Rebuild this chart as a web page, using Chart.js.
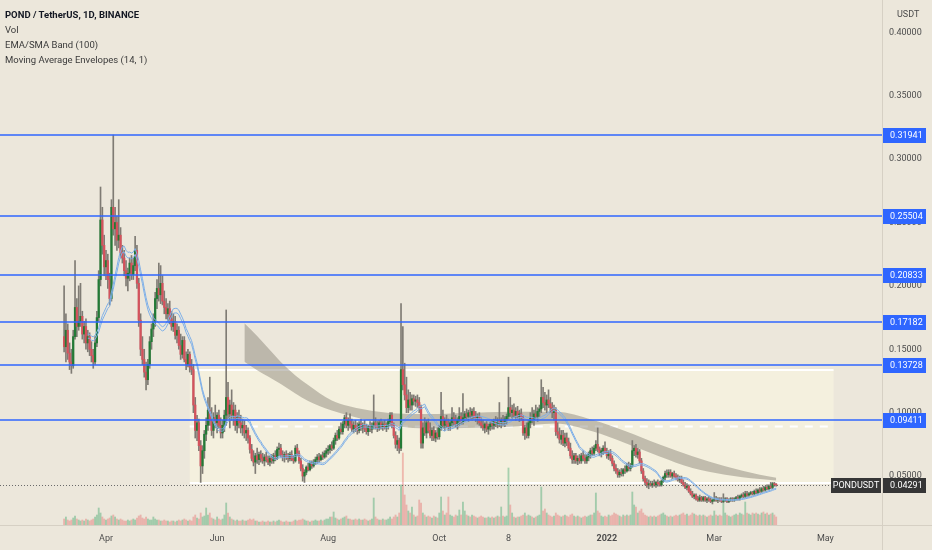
<!DOCTYPE html>
<html><head><meta charset="utf-8">
<script src="https://cdn.jsdelivr.net/npm/chart.js@4.4.0/dist/chart.umd.min.js"></script>
<style>
html,body{margin:0;padding:0;background:#ece7db;}
#wrap{position:relative;width:932px;height:550px;overflow:hidden;}
canvas{position:absolute;left:0;top:0;}
.lg{position:absolute;left:5px;font-family:Roboto,sans-serif;font-size:9.5px;color:#3a3a3a;white-space:nowrap;line-height:12px;}
</style></head><body>
<div id="wrap">
<canvas id="c" width="932" height="550"></canvas>
<div class="lg" style="top:9px;font-weight:bold;color:#131722">POND / TetherUS, 1D, BINANCE</div>
<div class="lg" style="top:24px">Vol</div>
<div class="lg" style="top:39px">EMA/SMA Band (100)</div>
<div class="lg" style="top:54px">Moving Average Envelopes (14, 1)</div>
<div class="lg" style="left:897px;top:8px;font-size:9px;color:#4a4a4a">USDT</div>
</div>
<script>
// ---- data: daily candles from 2021-03-09 (index 0) ----
const open = [
.160,.152,.165,.147,.140,.137,.160,.183,.168,.172, .176,.162,.168,.155,.160,.150,.145,.140,.155,.175,
.205,.252,.232,.215,.220,.205,.190,.262,.245,.250, .236,.240,.226,.222,.212,.206,.210,.218,.209,.216,
.228,.202,.173,.150,.142,.132,.126,.138,.156,.166, .172,.190,.198,.193,.202,.188,.183,.178,.182,.174,
.168,.172,.161,.165,.153,.146,.157,.142,.138,.146, .136,.134,.106,.086,.092,.074,.058,.070,.083,.090,
.102,.094,.086,.096,.092,.098,.090,.084,.090,.098, .112,.099,.106,.098,.102,.090,.096,.092,.088,.090,
.084,.086,.080,.071,.064,.061,.066,.063,.067,.064, .062,.065,.063,.061,.064,.062,.066,.064,.071,.072,
.067,.065,.067,.065,.064,.067,.063,.062,.072,.068, .062,.056,.050,.053,.057,.055,.060,.058,.061,.063,
.065,.063,.066,.065,.068,.070,.071,.074,.072,.078, .082,.080,.087,.085,.091,.096,.090,.094,.091,.087,
.090,.088,.086,.091,.088,.090,.087,.085,.089,.087, .090,.092,.089,.088,.092,.089,.091,.088,.090,.093,
.098,.090,.082,.075,.078,.072,.134,.122,.114,.104, .110,.106,.111,.109,.110,.108,.104,.076,.088,.084,
.092,.086,.082,.086,.080,.084,.081,.088,.097,.090, .094,.091,.089,.092,.096,.093,.091,.094,.097,.093,
.096,.099,.097,.100,.098,.101,.097,.095,.097,.092, .090,.088,.091,.087,.089,.091,.090,.093,.091,.094,
.092,.094,.093,.095,.097,.104,.100,.102,.098,.101, .097,.099,.096,.084,.088,.082,.092,.096,.094,.099,
.097,.101,.103,.112,.108,.106,.110,.107,.104,.100, .102,.085,.083,.079,.082,.076,.080,.077,.072,.066,
.063,.066,.062,.064,.062,.066,.064,.062,.065,.067, .070,.068,.072,.075,.071,.068,.070,.072,.069,.066,
.068,.064,.060,.056,.054,.051,.053,.052,.055,.054, .058,.056,.058,.070,.072,.067,.069,.062,.054,.048,
.045,.043,.044,.043,.044,.043,.045,.044,.043,.046, .049,.052,.051,.053,.050,.052,.050,.049,.047,.048,
.045,.043,.041,.042,.038,.036,.034,.035,.032,.031, .033,.031,.033,.031,.032,.031,.030,.031,.032,.031,
.032,.031,.030,.031,.032,.030,.031,.032,.031,.032, .033,.032,.034,.035,.034,.036,.035,.036,.037,.036,
.038,.037,.039,.038,.040,.039,.041,.040,.042,.041, .044,.043];
const high = [
.200,.178,.170,.155,.150,.165,.220,.190,.200,.202, .180,.172,.174,.165,.163,.156,.150,.160,.180,.212,
.278,.262,.240,.228,.225,.210,.268,.319,.262,.255, .268,.246,.232,.228,.220,.214,.222,.224,.222,.239,
.232,.206,.178,.160,.150,.140,.142,.160,.170,.178, .195,.205,.218,.216,.208,.196,.190,.186,.188,.180,
.178,.176,.170,.168,.162,.160,.160,.148,.150,.148, .142,.138,.112,.098,.095,.078,.074,.086,.096,.112,
.128,.104,.100,.106,.100,.102,.096,.094,.102,.181, .124,.110,.118,.108,.106,.100,.102,.098,.095,.094,
.090,.088,.082,.075,.070,.068,.072,.069,.070,.068, .067,.069,.066,.066,.067,.068,.070,.073,.076,.075,
.070,.069,.070,.068,.069,.070,.066,.074,.075,.070, .064,.059,.055,.058,.060,.062,.062,.063,.065,.067,
.068,.067,.069,.070,.072,.074,.075,.077,.080,.084, .086,.089,.092,.093,.098,.100,.096,.099,.095,.093,
.094,.092,.093,.095,.092,.094,.091,.090,.093,.092, .114,.096,.093,.094,.095,.093,.094,.092,.095,.100,
.100,.092,.085,.082,.080,.186,.168,.139,.128,.118, .116,.114,.114,.113,.114,.112,.106,.092,.096,.094,
.095,.092,.088,.089,.086,.088,.090,.116,.102,.096, .098,.095,.094,.104,.100,.098,.096,.104,.100,.115,
.101,.103,.102,.104,.103,.104,.101,.099,.100,.096, .094,.092,.093,.091,.093,.094,.095,.097,.096,.108,
.096,.098,.097,.099,.128,.112,.106,.107,.104,.105, .102,.103,.098,.090,.092,.094,.100,.104,.102,.106,
.104,.106,.126,.120,.116,.114,.118,.112,.108,.106, .104,.092,.088,.086,.086,.084,.084,.080,.076,.070,
.068,.068,.066,.067,.068,.070,.067,.067,.069,.072, .073,.074,.078,.088,.073,.072,.074,.077,.072,.070,
.071,.066,.062,.059,.056,.055,.056,.056,.058,.060, .061,.060,.078,.074,.075,.072,.071,.064,.056,.050,
.048,.047,.046,.046,.047,.046,.047,.046,.047,.050, .054,.055,.055,.055,.053,.054,.052,.051,.050,.050,
.047,.045,.044,.043,.040,.038,.036,.036,.034,.035, .034,.034,.034,.033,.034,.033,.032,.037,.034,.033,
.033,.033,.036,.033,.033,.032,.033,.033,.033,.034, .035,.035,.036,.037,.038,.038,.037,.038,.038,.039,
.040,.040,.041,.041,.042,.042,.043,.043,.045,.045, .045,.044];
const low = [
.148,.140,.142,.134,.131,.135,.158,.160,.165,.168, .158,.155,.150,.148,.145,.140,.135,.138,.152,.172,
.200,.225,.208,.205,.198,.185,.188,.240,.232,.228, .230,.222,.218,.208,.200,.196,.204,.205,.205,.212,
.198,.168,.145,.138,.128,.118,.122,.135,.150,.160, .168,.182,.188,.186,.185,.178,.174,.172,.170,.165,
.164,.158,.155,.150,.142,.143,.140,.134,.136,.132, .130,.100,.080,.078,.070,.045,.052,.064,.078,.086,
.090,.082,.080,.088,.084,.088,.080,.080,.085,.090, .095,.088,.094,.090,.086,.084,.088,.084,.082,.080,
.078,.076,.068,.062,.058,.052,.060,.059,.061,.060, .058,.061,.059,.058,.060,.060,.062,.063,.066,.065,
.062,.061,.063,.061,.062,.062,.060,.061,.066,.060, .054,.046,.045,.051,.054,.054,.056,.057,.059,.060,
.061,.062,.063,.064,.065,.067,.068,.070,.071,.075, .078,.079,.083,.083,.088,.088,.086,.088,.085,.084,
.085,.083,.084,.086,.084,.085,.083,.082,.085,.084, .087,.087,.085,.086,.087,.086,.087,.085,.087,.090,
.088,.080,.072,.070,.068,.070,.118,.110,.100,.100, .102,.102,.106,.105,.104,.100,.072,.072,.082,.080,
.084,.080,.078,.078,.077,.079,.079,.086,.088,.086, .088,.086,.086,.089,.090,.089,.087,.090,.091,.091,
.093,.094,.093,.095,.094,.095,.093,.091,.090,.088, .086,.084,.085,.083,.086,.087,.087,.089,.088,.089,
.088,.090,.089,.091,.095,.097,.095,.096,.094,.095, .093,.094,.082,.079,.080,.080,.088,.092,.090,.095,
.093,.097,.100,.104,.102,.100,.104,.100,.096,.094, .082,.080,.076,.075,.074,.073,.074,.070,.064,.060,
.060,.060,.059,.060,.060,.062,.060,.060,.062,.064, .066,.066,.070,.069,.066,.065,.067,.068,.064,.063,
.062,.058,.054,.052,.049,.049,.050,.050,.052,.053, .054,.054,.057,.066,.065,.064,.060,.052,.046,.043,
.041,.040,.042,.041,.042,.041,.042,.042,.042,.045, .047,.049,.049,.049,.048,.049,.047,.046,.045,.044,
.042,.040,.039,.037,.035,.033,.032,.031,.030,.030, .030,.030,.030,.029,.030,.029,.028,.030,.030,.029,
.030,.029,.029,.030,.029,.029,.030,.030,.030,.031, .031,.031,.033,.033,.033,.034,.034,.035,.035,.035,
.036,.036,.037,.037,.038,.038,.039,.039,.040,.040, .042,.042];
const close = [
.152,.165,.147,.140,.137,.160,.183,.168,.172,.176, .162,.168,.155,.160,.150,.145,.140,.155,.175,.205,
.252,.232,.215,.220,.205,.190,.262,.245,.250,.236, .240,.226,.222,.212,.206,.210,.218,.209,.216,.228,
.202,.173,.150,.142,.132,.126,.138,.156,.166,.172, .190,.198,.193,.202,.188,.183,.178,.182,.174,.168,
.172,.161,.165,.153,.146,.157,.142,.138,.146,.136, .134,.106,.086,.092,.074,.058,.070,.083,.090,.102,
.094,.086,.096,.092,.098,.090,.084,.090,.098,.112, .099,.106,.098,.102,.090,.096,.092,.088,.090,.084,
.086,.080,.071,.064,.061,.066,.063,.067,.064,.062, .065,.063,.061,.064,.062,.066,.064,.071,.072,.067,
.065,.067,.065,.064,.067,.063,.062,.072,.068,.062, .056,.050,.053,.057,.055,.060,.058,.061,.063,.065,
.063,.066,.065,.068,.070,.071,.074,.072,.078,.082, .080,.087,.085,.091,.096,.090,.094,.091,.087,.090,
.088,.086,.091,.088,.090,.087,.085,.089,.087,.090, .092,.089,.088,.092,.089,.091,.088,.090,.093,.098,
.090,.082,.075,.078,.072,.134,.122,.114,.104,.110, .106,.111,.109,.110,.108,.104,.076,.088,.084,.092,
.086,.082,.086,.080,.084,.081,.088,.097,.090,.094, .091,.089,.092,.096,.093,.091,.094,.097,.093,.096,
.099,.097,.100,.098,.101,.097,.095,.097,.092,.090, .088,.091,.087,.089,.091,.090,.093,.091,.094,.092,
.094,.093,.095,.097,.104,.100,.102,.098,.101,.097, .099,.096,.084,.088,.082,.092,.096,.094,.099,.097,
.101,.103,.112,.108,.106,.110,.107,.104,.100,.102, .085,.083,.079,.082,.076,.080,.077,.072,.066,.063,
.066,.062,.064,.062,.066,.064,.062,.065,.067,.070, .068,.072,.075,.071,.068,.070,.072,.069,.066,.068,
.064,.060,.056,.054,.051,.053,.052,.055,.054,.058, .056,.058,.070,.072,.067,.069,.062,.054,.048,.045,
.043,.044,.043,.044,.043,.045,.044,.043,.046,.049, .052,.051,.053,.050,.052,.050,.049,.047,.048,.045,
.043,.041,.042,.038,.036,.034,.035,.032,.031,.033, .031,.033,.031,.032,.031,.030,.031,.032,.031,.032,
.031,.030,.031,.032,.030,.031,.032,.031,.032,.033, .032,.034,.035,.034,.036,.035,.036,.037,.036,.038,
.037,.039,.038,.040,.039,.041,.040,.042,.041,.044, .043,.04291];
const volume = [
6,8,5,4,5,7,9,6,5,4, 5,4,6,5,4,5,6,8,10,17, 12,8,6,5,6,7,9,10,8,6, 5,6,5,4,4,5,4,5,6,5,
7,9,10,7,6,8,6,5,5,8, 6,5,5,4,4,5,4,4,3,4, 4,3,4,5,4,5,6,5,4,5, 4,8,10,7,6,12,8,9,17,10,
12,7,6,5,8,6,5,6,10,22, 12,8,6,5,4,5,4,4,5,4, 4,5,6,5,6,4,4,3,3,4, 3,3,4,3,3,4,3,4,5,4,
3,3,4,3,3,3,4,5,4,5, 5,6,5,4,4,3,4,4,5,4, 4,5,4,5,6,6,8,8,13,7, 6,5,6,7,8,9,6,6,5,5,
6,5,6,5,5,6,5,4,5,6, 27,8,6,5,5,6,5,5,6,8, 6,8,10,8,12,40,72,30,20,14, 12,18,10,8,9,25,22,12,10,8,
9,8,7,9,8,7,12,28,14,10, 12,28,10,9,8,10,9,15,10,23, 14,10,9,8,10,9,8,7,8,9, 8,7,7,8,7,8,7,8,9,8,
18,9,8,9,57,20,12,8,7,8, 8,9,10,12,9,10,9,8,7,8, 9,10,38,14,16,12,10,9,8,9, 12,10,9,8,9,10,9,8,10,11,
9,8,9,8,7,8,9,8,9,10, 10,12,32,14,12,9,8,9,8,10, 9,10,12,11,10,9,8,10,9,10, 9,10,33,20,18,12,14,16,12,10,
9,8,9,8,9,8,9,10,11,12, 10,9,8,9,8,9,10,9,10,11, 12,10,11,9,10,12,11,10,9,10, 9,10,9,8,9,10,9,14,10,9,
10,9,23,12,10,9,8,9,10,11, 10,12,11,10,23,12,11,10,12,11, 12,11,10,12,13,11,12,10,11,12, 10,8];

// EMA/SMA Band (100) at these candle indices
const bandDays   = [99, 106, 112, 119, 127, 134, 147, 165, 183, 200, 220, 245, 270, 290, 308, 327, 345, 363, 382, 391];
const bandUpper  = [.1705,.1605,.1510,.1400,.1293,.1218,.1096,.1025,.0994,.0990,.0998,.1008,.1008,.0945,.0856,.0748,.0656,.0577,.0510,.0487];
const bandLower  = [.1402,.1335,.1285,.1226,.1151,.1092,.1017,.0947,.0891,.0877,.0879,.0889,.0915,.0853,.0761,.0655,.0564,.0511,.0476,.0465];

const priceTicks = [0.05,0.10,0.15,0.20,0.25,0.30,0.35,0.40];
const timeTickDays = [23,84,145,206,244,298,357,418];
const timeTickLabels = ['Apr','Jun','Aug','Oct','8','2022','Mar','May'];
const levels = [0.31941,0.25504,0.20833,0.17182,0.13728,0.09411];
const lastPrice = 0.04291;
const symbol = 'PONDUSDT';
const boxTop = 0.1337, boxBottom = 0.0446, boxStartDay = 69, boxEndDay = 422.5;

// ---- Moving Average Envelopes (14, 1) derived from closes ----
const days = close.map((_, i) => i);
const sma14 = close.map((_, i) => i < 13 ? null : close.slice(i - 13, i + 1).reduce((a, b) => a + b, 0) / 14);
const envUpper = sma14.map(v => v === null ? null : v * 1.01);
const envLower = sma14.map(v => v === null ? null : v * 0.99);

const UP = '#237a36', DOWN = '#d4525c', WICK = '#7f7b74';
const VUP = 'rgba(60,165,105,0.42)', VDOWN = 'rgba(230,95,95,0.38)';
const LEVEL = '#2f66ff';

const overlay = {
  id: 'overlay',
  beforeDatasetsDraw(chart) {
    const { ctx, scales: { x, y } } = chart;
    const x1 = x.getPixelForValue(boxStartDay), x2 = x.getPixelForValue(boxEndDay);
    const yT = y.getPixelForValue(boxTop), yB = y.getPixelForValue(boxBottom);
    const yM = (yT + yB) / 2;
    ctx.save();
    ctx.fillStyle = '#f4f0de';
    ctx.fillRect(x1, yT, x2 - x1, yB - yT);
    ctx.strokeStyle = '#ffffff'; ctx.lineWidth = 2;
    ctx.beginPath(); ctx.moveTo(x1, yT); ctx.lineTo(x2, yT); ctx.moveTo(x1, yB); ctx.lineTo(x2, yB); ctx.stroke();
    ctx.setLineDash([8, 7]);
    ctx.beginPath(); ctx.moveTo(x1, yM); ctx.lineTo(x2, yM); ctx.stroke();
    ctx.restore();
  },
  afterDatasetsDraw(chart) {
    const { ctx, chartArea: a, scales: { y } } = chart;
    ctx.save();
    ctx.strokeStyle = '#6a6a6a'; ctx.lineWidth = 1; ctx.setLineDash([1, 2]);
    const py0 = Math.round(y.getPixelForValue(lastPrice)) + 0.5;
    ctx.beginPath(); ctx.moveTo(a.left, py0); ctx.lineTo(a.right, py0); ctx.stroke();
    ctx.setLineDash([]);
    ctx.strokeStyle = LEVEL; ctx.lineWidth = 1.3;
    levels.forEach(v => {
      const py = Math.round(y.getPixelForValue(v));
      ctx.beginPath(); ctx.moveTo(a.left, py); ctx.lineTo(a.right, py); ctx.stroke();
    });
    ctx.restore();
  },
  afterDraw(chart) {
    const { ctx, chartArea: a, scales: { y } } = chart;
    ctx.save();
    ctx.fillStyle = '#d6d0c4';
    ctx.fillRect(a.right, 0, 1, chart.height);
    ctx.fillRect(0, a.bottom, chart.width, 1);
    ctx.font = '9px Roboto';
    ctx.textBaseline = 'middle';
    const tag = (py, text, bg, x, w, align) => {
      const yy = Math.round(py);
      ctx.fillStyle = bg; ctx.fillRect(x, yy - 7, w, 15);
      ctx.fillStyle = '#ffffff';
      ctx.textAlign = align;
      ctx.fillText(text, align === 'center' ? x + w / 2 : x + 7, yy + 0.5);
    };
    levels.forEach(v => tag(y.getPixelForValue(v), v.toFixed(5), LEVEL, a.right + 1, 43, 'left'));
    const lp = y.getPixelForValue(lastPrice);
    tag(lp, lastPrice.toFixed(5), '#363636', a.right + 1, 43, 'left');
    tag(lp, symbol, '#363636', a.right - 51, 50, 'center');
    ctx.restore();
  }
};

Chart.defaults.font.family = 'Roboto';
new Chart(document.getElementById('c'), {
  type: 'bar',
  data: {
    datasets: [
      { type: 'line', label: 'Env upper', data: days.map(i => ({ x: i, y: envUpper[i] })), borderColor: '#7dafe8', borderWidth: 1, pointRadius: 0, order: 1 },
      { type: 'line', label: 'Env lower', data: days.map(i => ({ x: i, y: envLower[i] })), borderColor: '#7dafe8', borderWidth: 1, pointRadius: 0, order: 1 },
      { label: 'Body', data: days.map(i => ({ x: i, y: [open[i], close[i]] })), backgroundColor: days.map(i => close[i] >= open[i] ? UP : DOWN), barThickness: 1.6, minBarLength: 1, grouped: false, order: 2 },
      { label: 'Wick', data: days.map(i => ({ x: i, y: [low[i], high[i]] })), backgroundColor: WICK, barThickness: 1, grouped: false, order: 3 },
      { label: 'Vol', yAxisID: 'y2', data: days.map(i => ({ x: i, y: volume[i] })), backgroundColor: days.map(i => close[i] >= open[i] ? VUP : VDOWN), barThickness: 1.2, grouped: false, order: 4 },
      { type: 'line', label: 'Band upper', data: bandDays.map((d, k) => ({ x: d, y: bandUpper[k] })), borderWidth: 0, borderColor: 'rgba(0,0,0,0)', pointRadius: 0, cubicInterpolationMode: 'monotone', fill: false, order: 6 },
      { type: 'line', label: 'Band lower', data: bandDays.map((d, k) => ({ x: d, y: bandLower[k] })), borderWidth: 0, borderColor: 'rgba(0,0,0,0)', pointRadius: 0, cubicInterpolationMode: 'monotone', fill: '-1', backgroundColor: 'rgba(122,117,104,0.42)', order: 5 }
    ]
  },
  options: {
    responsive: false,
    animation: false,
    layout: { padding: 0 },
    plugins: { legend: { display: false }, tooltip: { enabled: false } },
    scales: {
      x: {
        type: 'linear', position: 'bottom', min: -35.2, max: 449.1, offset: false,
        grid: { display: false, drawTicks: false, offset: false }, border: { display: false },
        afterBuildTicks: s => { s.ticks = timeTickDays.map(v => ({ value: v })); },
        afterFit: s => { s.height = 25; s.paddingLeft = 0; s.paddingRight = 0; },
        ticks: {
          autoSkip: false, maxRotation: 0, padding: 8, color: '#4d4d4d',
          font: c => ({ family: 'Roboto', size: 9, weight: c.index === 5 ? 'bold' : 'normal' }),
          callback: v => { const k = timeTickDays.indexOf(v); return k < 0 ? '' : timeTickLabels[k]; }
        }
      },
      y: {
        type: 'linear', position: 'right', min: 0.0114, max: 0.4255,
        grid: { display: false, drawTicks: false }, border: { display: false },
        afterBuildTicks: s => { s.ticks = priceTicks.map(v => ({ value: v })); },
        afterFit: s => { s.width = 50; s.paddingTop = 0; s.paddingBottom = 0; },
        ticks: { padding: 7, color: '#4d4d4d', font: { size: 9 }, crossAlign: 'near', callback: v => Number(v).toFixed(5) }
      },
      y2: { type: 'linear', display: false, min: 0, max: 525 }
    }
  },
  plugins: [overlay]
});
</script>
</body></html>
